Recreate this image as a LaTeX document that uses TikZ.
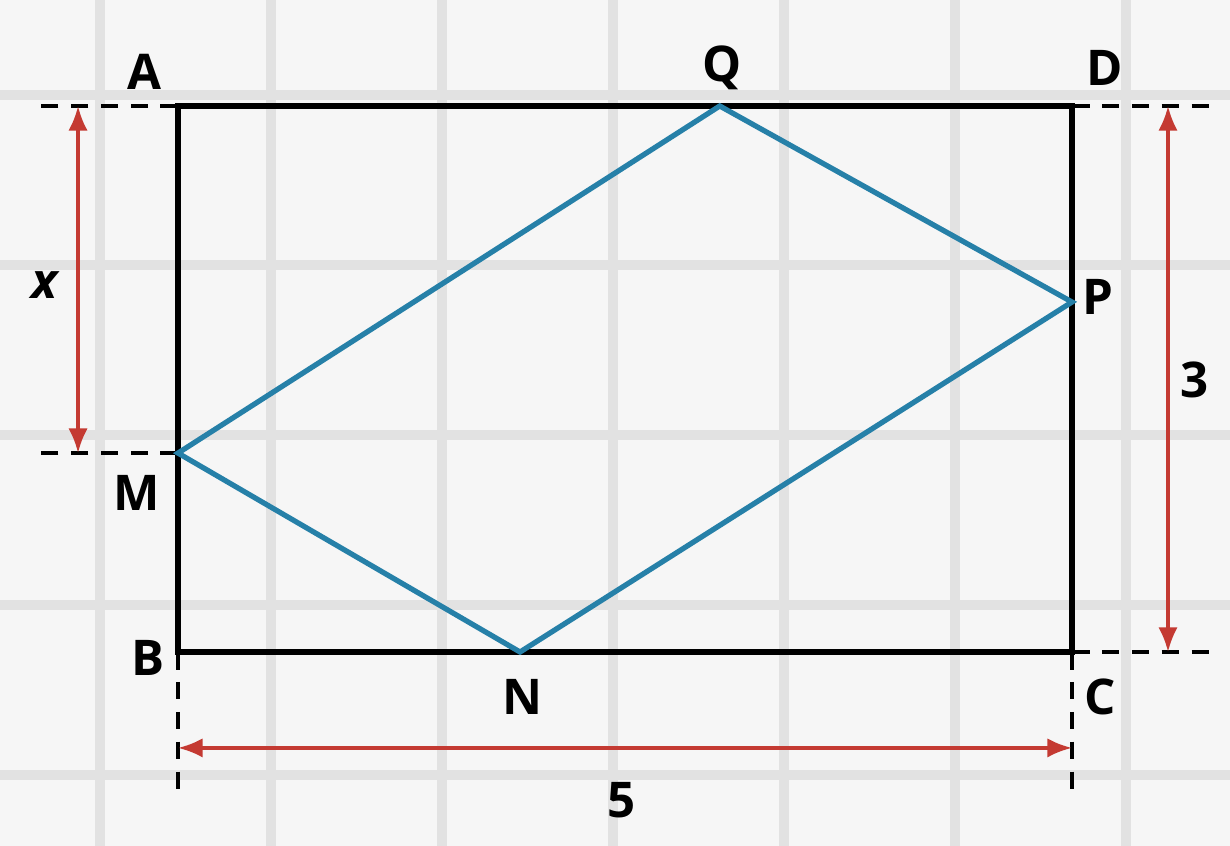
\documentclass[tikz,border=0pt]{standalone}
\usepackage{fontspec}
\setmainfont{Open Sans}
\usetikzlibrary{arrows.meta}

\definecolor{paper}{RGB}{246,246,246}
\definecolor{gridgray}{RGB}{226,226,226}
\definecolor{rhombcol}{RGB}{38,128,168}
\definecolor{measure}{RGB}{196,58,50}

\begin{document}
\begin{tikzpicture}[
    x = 3.576cm,
    y = 3.64cm,
    gridline/.style = {
        draw = gridgray,
        line width = 5.6pt
    },
    side/.style = {
        draw = black,
        line width = 3.2pt,
        line join = miter
    },
    rhomb/.style = {
        draw = rhombcol,
        line width = 3pt,
        line join = miter
    },
    guide/.style = {
        draw = black,
        line width = 2.4pt,
        dash pattern = on 10pt off 7pt
    },
    dim/.style = {
        {Latex[length=14pt,width=11pt]}-{Latex[length=14pt,width=11pt]},
        draw = measure,
        fill = measure,
        line width = 2pt
    },
    ptlabel/.style = {
        font = \fontsize{28}{32}\selectfont\bfseries,
        inner sep = 0pt
    }
]

    % paper and squared grid
    \path [use as bounding box, fill = paper] (-0.9955,-1.0659) rectangle (5.8837,3.5824);
    \foreach \i in {0,...,6}
        \draw [gridline] ({-0.436+0.956*\i},-1.0659) -- ({-0.436+0.956*\i},3.5824);
    \foreach \j in {0,...,4}
        \draw [gridline] (-0.9955,{3.060-0.934*\j}) -- (5.8837,{3.060-0.934*\j});

    % corners of the rectangle and points on its sides
    \coordinate (A) at (0,3);
    \coordinate (B) at (0,0);
    \coordinate (C) at (5,0);
    \coordinate (D) at (5,3);
    \coordinate (M) at (0,1.093);
    \coordinate (N) at (1.913,0);
    \coordinate (P) at (5,1.923);
    \coordinate (Q) at (3.03,3);

    % ends of the guide lines
    \coordinate (gA) at (-0.80,3);
    \coordinate (gM) at (-0.80,1.093);
    \coordinate (gD) at (5.772,3);
    \coordinate (gC) at (5.772,0);
    \coordinate (gB) at (0,-0.758);
    \coordinate (gCd) at (5,-0.758);

    % ends of the measure arrows
    \coordinate (xt) at (-0.559,3);
    \coordinate (xb) at (-0.559,1.093);
    \coordinate (ht) at (5.537,3);
    \coordinate (hb) at (5.537,0);
    \coordinate (wl) at (0,-0.527);
    \coordinate (wr) at (5,-0.527);

    % dashed guide lines
    \draw [guide] (A) -- (gA);
    \draw [guide] (M) -- (gM);
    \draw [guide] (D) -- (gD);
    \draw [guide] (C) -- (gC);
    \draw [guide] (B) -- (gB);
    \draw [guide] (C) -- (gCd);

    % measures
    \draw [dim] (xt) -- (xb);
    \draw [dim] (ht) -- (hb);
    \draw [dim] (wl) -- (wr);

    % rectangle and rhombus
    \draw [side] (A) -- (D) -- (C) -- (B) -- cycle;
    \draw [rhomb] (M) -- (Q) -- (P) -- (N) -- cycle;

    % labels
    \node [ptlabel] (lA) at (-0.185,3.187) {A};
    \node [ptlabel] (lQ) at (3.043,3.209) {Q};
    \node [ptlabel] (lD) at (5.185,3.209) {D};
    \node [ptlabel] (lP) at (5.145,1.951) {P};
    \node [ptlabel] (lM) at (-0.229,0.874) {M};
    \node [ptlabel] (lB) at (-0.168,-0.033) {B};
    \node [ptlabel] (lN) at (1.924,-0.247) {N};
    \node [ptlabel] (lC) at (5.157,-0.247) {C};
    \node [ptlabel] (lx) at (-0.744,2.016) {\itshape x};
    \node [ptlabel] (l3) at (5.688,1.495) {3};
    \node [ptlabel] (l5) at (2.483,-0.813) {5};

\end{tikzpicture}
\end{document}
